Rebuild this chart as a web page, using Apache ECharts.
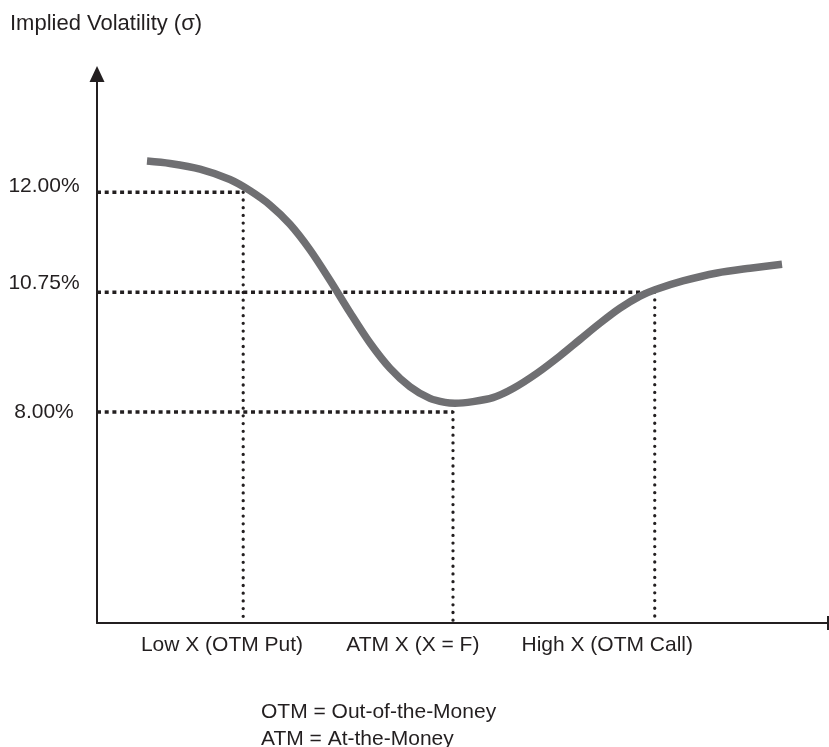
<!DOCTYPE html>
<html>
<head>
<meta charset="utf-8">
<title>Implied Volatility Skew</title>
<script src="https://cdn.jsdelivr.net/npm/echarts@6/dist/echarts.min.js"></script>
<style>
  html, body { margin: 0; padding: 0; background: #ffffff; }
  #chart { width: 829px; height: 747px; }
</style>
</head>
<body>
<div id="chart"></div>
<script>
// Strike axis runs 0..100 (schematic), volatility axis in percent.
const strikeX = [6.84, 9.99, 14.09, 18.19, 20.93, 23.67, 26.40, 29.14, 31.87, 34.61, 37.35, 40.08,
                 42.82, 45.55, 47.61, 48.97, 51.44, 54.17, 56.91, 60.19, 63.34, 66.07, 68.81,
                 71.55, 74.28, 76.33, 80.16, 84.82, 89.33, 93.71];
const impliedVol = [12.39, 12.36, 12.29, 12.16, 12.02, 11.84, 11.60, 11.28, 10.90, 10.49, 9.63, 8.92,
                    8.40, 8.17, 8.12, 8.11, 8.13, 8.18, 8.35, 8.78, 9.27, 9.73, 10.19,
                    10.55, 10.70, 10.78, 10.89, 10.99, 11.05, 11.10];

const markStrikes = [20.0, 48.7, 76.3];
const markLevels = [12.00, 8.00, 10.75];

// Strike-axis captions and where they sit along the axis
const strikeNames = ['Low X (OTM Put)', 'ATM X (X = F)', 'High X (OTM Call)'];
const strikeNameAt = [17.1, 43.2, 69.8];

const titleText = 'Implied Volatility (\u03c3)';
const noteLines = ['OTM = Out-of-the-Money', 'ATM = At-the-Money'];

const Y_MIN = 5.36, Y_MAX = 13.48;
const FONT = '"Liberation Sans", Arial, Helvetica, sans-serif';
const INK = '#231f20';

const curve = strikeX.map((x, i) => [x, impliedVol[i]]);

const series = [];
markStrikes.forEach((s, i) => {
  series.push({
    type: 'line', silent: true, symbol: 'none', z: 2,
    data: [[0, markLevels[i]], [s, markLevels[i]]],
    lineStyle: { color: INK, width: 3.5, type: [4, 3.7], cap: 'butt' }
  });
  series.push({
    type: 'line', silent: true, symbol: 'none', z: 2,
    data: [[s, markLevels[i]], [s, Y_MIN]],
    lineStyle: { color: INK, width: 3.3, type: [0.01, 7.7], cap: 'round' }
  });
});
series.push({
  type: 'line', silent: true, symbol: 'none', smooth: 0.3, z: 3,
  data: curve,
  lineStyle: { color: '#6f6f72', width: 7.5, cap: 'butt' }
});

// Per-label lift for the volatility tick captions
const labelRich = {
  l0: { fontFamily: FONT, fontSize: 21, color: INK, padding: [0, 0, 12, 0] },
  l1: { fontFamily: FONT, fontSize: 21, color: INK, padding: [0, 0, 0, 0] },
  l2: { fontFamily: FONT, fontSize: 21, color: INK, padding: [0, 0, 17, 0] }
};

const chart = echarts.init(document.getElementById('chart'), null, { renderer: 'canvas' });
chart.setOption({
  animation: false,
  backgroundColor: '#ffffff',
  textStyle: { fontFamily: FONT },
  title: [
    { text: titleText, left: 5, top: 8,
      textStyle: { fontFamily: FONT, fontWeight: 'normal', fontSize: 22, color: INK } },
    { text: noteLines.join('\n'), left: 256, top: 694,
      textStyle: { fontFamily: FONT, fontWeight: 'normal', fontSize: 21, lineHeight: 27, color: INK } }
  ],
  grid: { left: 97, right: 1, top: 74, bottom: 124 },
  xAxis: {
    type: 'value', min: 0, max: 100,
    axisLine: { show: true, symbol: ['none', 'rect'], symbolSize: [14, 2],
                lineStyle: { color: INK, width: 2 } },
    axisTick: { show: false },
    splitLine: { show: false },
    axisLabel: {
      customValues: strikeNameAt,
      formatter: v => strikeNames[strikeNameAt.indexOf(v)] || '',
      fontFamily: FONT, fontSize: 21, color: INK, margin: 12
    }
  },
  yAxis: [
    {
      type: 'value', min: Y_MIN, max: Y_MAX,
      breaks: [{ start: 8.25, end: 10.5, gap: 1.0 }],
      breakArea: {
        show: false,
        itemStyle: { color: 'rgba(0,0,0,0)', borderColor: 'rgba(0,0,0,0)', borderWidth: 0, opacity: 0 },
        zigzagAmplitude: 0,
        expandOnClick: false
      },
      axisLine: { show: false },
      axisTick: { show: false },
      splitLine: { show: false },
      axisLabel: {
        customValues: markLevels,
        formatter: v => '{l' + markLevels.indexOf(v) + '|' + v.toFixed(2) + '%}',
        rich: labelRich,
        fontFamily: FONT, fontSize: 21, color: INK, margin: 53, align: 'center'
      }
    },
    {
      // plain vertical axis line with the arrow head
      type: 'value', position: 'left', min: 0, max: 1,
      axisLine: { show: true, onZero: false, symbol: ['none', 'triangle'], symbolSize: [15, 16],
                  lineStyle: { color: INK, width: 2 } },
      axisTick: { show: false },
      splitLine: { show: false },
      axisLabel: { show: false }
    }
  ],
  series: series
});
</script>
</body>
</html>
